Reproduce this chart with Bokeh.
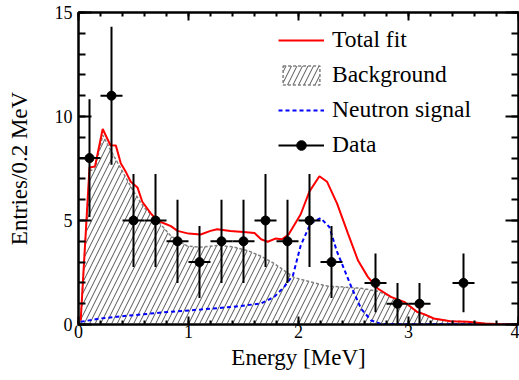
import numpy as np
from bokeh.plotting import figure
from bokeh.models import (LinearAxis, SingleIntervalTicker, Range1d, Legend,
                          LegendItem, CustomJSTickFormatter)
from bokeh.embed import file_html
from bokeh.resources import INLINE

# ---------------- data ----------------
data_x = [0.1, 0.3, 0.5, 0.7, 0.9, 1.1, 1.3, 1.5, 1.7, 1.9, 2.1, 2.3, 2.7, 2.9, 3.1, 3.5]
data_y = [8, 11, 5, 5, 4, 3, 4, 4, 5, 4, 5, 3, 2, 1, 1, 2]
data_err = [2.83, 3.32, 2.24, 2.24, 2.0, 1.73, 2.0, 2.0, 2.24, 2.0, 2.24, 1.73, 1.41, 1.0, 1.0, 1.41]
bin_half = 0.1

fit_x = [0.02, 0.10, 0.15, 0.22, 0.29, 0.34, 0.385, 0.43, 0.475, 0.536,
         0.58, 0.657, 0.70, 0.748, 0.84, 0.90, 1.00, 1.11, 1.20, 1.26,
         1.38, 1.50, 1.60, 1.66, 1.72, 1.79, 1.85, 1.91, 2.02, 2.10,
         2.19, 2.26, 2.35, 2.45, 2.54, 2.63, 2.72, 2.84, 2.96, 3.08,
         3.14, 3.23, 3.38, 3.54, 3.69, 3.84, 4.0]
fit_y = [0.2, 7.55, 7.6, 9.4, 8.62, 8.6, 7.74, 7.34, 6.86, 6.59,
         5.9, 5.34, 5.1, 4.93, 4.73, 4.5, 4.37, 4.33, 4.5, 4.58,
         4.5, 4.45, 4.4, 4.1, 3.98, 4.13, 4.1, 4.33, 5.3, 6.4,
         7.13, 6.86, 5.82, 4.37, 3.09, 2.29, 1.73, 1.33, 1.09, 0.6,
         0.5, 0.29, 0.16, 0.13, 0.05, 0.01, 0.0]

bg_x = [0.02, 0.10, 0.15, 0.22, 0.29, 0.385, 0.5, 0.6, 0.7, 0.84,
        0.99, 1.11, 1.26, 1.41, 1.54, 1.66, 1.78, 1.96, 2.11, 2.26,
        2.41, 2.57, 2.72, 2.81, 2.90, 2.96, 3.08, 3.14, 3.23, 3.38,
        3.54, 3.69, 3.84, 4.0]
bg_y = [0.2, 7.4, 7.45, 9.1, 8.4, 7.5, 6.4, 5.6, 5.1, 4.25,
        3.77, 3.72, 3.8, 3.73, 3.55, 3.28, 2.93, 2.26, 2.05, 1.85,
        1.8, 1.74, 1.6, 1.41, 1.15, 1.09, 0.6, 0.5, 0.29, 0.16,
        0.13, 0.05, 0.01, 0.0]

sig_x = [0.02, 0.2, 0.5, 0.81, 1.11, 1.41, 1.66, 1.78, 1.87, 1.95,
         2.02, 2.11, 2.2, 2.28, 2.35, 2.48, 2.57, 2.66, 2.75, 4.0]
sig_y = [0.13, 0.29, 0.45, 0.6, 0.72, 0.85, 1.01, 1.33, 1.81, 2.37,
         3.8, 4.86, 5.12, 4.69, 3.5, 1.81, 0.75, 0.2, 0.02, 0.0]

x_label = "Energy [MeV]"
y_label = "Entries/0.2 MeV"

FONT = "Liberation Serif"

# ---------------- figure ----------------
p = figure(width=519, height=380, x_range=Range1d(0, 4), y_range=Range1d(0, 15),
           output_backend="svg", toolbar_location=None,
           min_border_left=78, min_border_right=1, min_border_top=12,
           min_border_bottom=56, x_axis_label=x_label, y_axis_label=y_label)
p.xgrid.visible = False
p.ygrid.visible = False
p.outline_line_color = "black"
p.outline_line_width = 2
p.background_fill_color = "white"
p.border_fill_color = "white"

xt = SingleIntervalTicker(interval=1, num_minor_ticks=5)
yt = SingleIntervalTicker(interval=5, num_minor_ticks=5)

def style_axis(ax, major_in, minor_in, show_labels=True):
    ax.axis_line_width = 2
    ax.axis_line_color = "black"
    ax.major_tick_line_width = 2
    ax.minor_tick_line_width = 2
    ax.major_tick_in = major_in
    ax.major_tick_out = 0
    ax.minor_tick_in = minor_in
    ax.minor_tick_out = 0
    ax.major_label_text_font = FONT
    ax.axis_label_text_font = FONT
    ax.axis_label_text_font_style = "normal"
    ax.axis_label_text_font_size = "23px"
    ax.axis_label_text_color = "black"
    ax.major_label_text_color = "black"
    if show_labels:
        ax.major_label_text_font_size = "18px"
    else:
        ax.formatter = CustomJSTickFormatter(code="return ''")
        ax.major_label_text_font_size = "1px"
        ax.major_label_standoff = 0

xa = p.xaxis[0]
xa.ticker = xt
style_axis(xa, 8, 4)
xa.major_label_standoff = 0
xa.axis_label_standoff = 4

ya = p.yaxis[0]
ya.ticker = yt
style_axis(ya, 13, 7)
ya.major_label_standoff = 6
ya.axis_label_standoff = 20

top = LinearAxis(ticker=SingleIntervalTicker(interval=1, num_minor_ticks=5))
style_axis(top, 8, 4, show_labels=False)
p.add_layout(top, "above")
right = LinearAxis(ticker=SingleIntervalTicker(interval=5, num_minor_ticks=5))
style_axis(right, 13, 7, show_labels=False)
p.add_layout(right, "right")

# background (hatched)
patch_x = bg_x + [bg_x[-1], bg_x[0]]
patch_y = bg_y + [0, 0]
r_bg = p.patch(patch_x, patch_y, fill_color="white", fill_alpha=0.0,
               hatch_pattern="/", hatch_color="#555555", hatch_weight=1,
               hatch_scale=11, line_color="#808080", line_width=1.5,
               line_dash="3 2")

# neutron signal
r_sig = p.line(sig_x, sig_y, line_color="blue", line_width=2, line_dash="4 3")

# total fit
r_fit = p.line(fit_x, fit_y, line_color="red", line_width=2)

# data with error bars
dx = np.array(data_x)
dy = np.array(data_y)
de = np.array(data_err)
r_xerr = p.segment(x0=dx - bin_half, x1=dx + bin_half, y0=dy, y1=dy,
                   line_color="black", line_width=2)
r_yerr = p.segment(x0=dx, x1=dx, y0=dy - de, y1=dy + de,
                   line_color="black", line_width=2)
r_pts = p.scatter(dx, dy, marker="circle", size=9, fill_color="black",
                  line_color="black")

legend = Legend(items=[
    LegendItem(label="Total fit", renderers=[r_fit]),
    LegendItem(label="Background", renderers=[r_bg]),
    LegendItem(label="Neutron signal", renderers=[r_sig]),
    LegendItem(label="Data", renderers=[r_xerr, r_pts]),
], location=(200, 166), label_text_font=FONT, label_text_font_size="23.5px",
    label_text_color="black", glyph_width=46, glyph_height=24,
    label_height=26, label_standoff=8, spacing=8, padding=0, margin=0,
    border_line_alpha=0, background_fill_alpha=0)
p.add_layout(legend)

open("out.html", "w").write(file_html(p, INLINE))
